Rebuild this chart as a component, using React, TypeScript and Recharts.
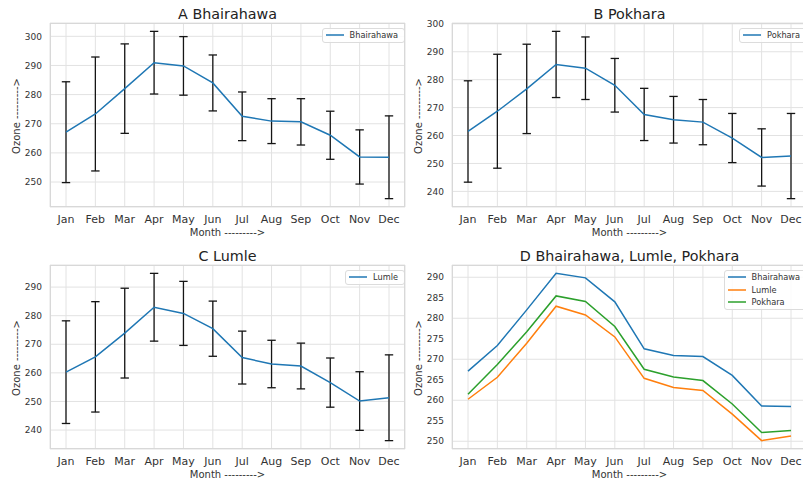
import React from 'react';
import { LineChart, Line, XAxis, YAxis, CartesianGrid, ErrorBar, Legend } from 'recharts';

const months = ['Jan', 'Feb', 'Mar', 'Apr', 'May', 'Jun', 'Jul', 'Aug', 'Sep', 'Oct', 'Nov', 'Dec'];

const bhairahawaMean = [267.1, 273.35, 282.05, 290.95, 289.85, 284.0, 272.55, 270.9, 270.65, 266.05, 258.6, 258.5];
const bhairahawaStd = [17.3, 19.55, 15.35, 10.75, 10.05, 9.6, 8.35, 7.7, 7.95, 8.25, 9.3, 14.2];
const pokharaMean = [261.45, 268.7, 276.7, 285.45, 284.1, 278.0, 267.55, 265.65, 264.8, 259.1, 252.15, 252.65];
const pokharaStd = [18.15, 20.4, 16.0, 11.85, 11.2, 9.6, 9.35, 8.35, 8.1, 8.8, 10.25, 15.25];
const lumleMean = [260.25, 265.6, 273.9, 282.95, 280.8, 275.45, 265.35, 263.1, 262.4, 256.6, 250.15, 251.3];
const lumleStd = [17.95, 19.3, 15.7, 11.85, 11.2, 9.65, 9.25, 8.3, 8.0, 8.6, 10.25, 15.0];

const ticksA = [250, 260, 270, 280, 290, 300];
const ticksB = [240, 250, 260, 270, 280, 290, 300];
const ticksC = [240, 250, 260, 270, 280, 290];
const ticksD = [250, 255, 260, 265, 270, 275, 280, 285, 290];

const titles = ['A Bhairahawa', 'B Pokhara', 'C Lumle', 'D Bhairahawa, Lumle, Pokhara'];
const xLabel = 'Month --------->';
const yLabel = 'Ozone --------->';

const BLUE = '#1f77b4';
const ORANGE = '#ff7f0e';
const GREEN = '#2ca02c';
const FONT = '"DejaVu Sans", Verdana, sans-serif';
const TEXT = '#333333';
const GRID = '#e2e2e2';

const PLOT_W = 355;
const PLOT_H = 184;

type Series = { name: string; color: string; values: number[]; std?: number[] };

function autoDomain(series: Series[]): [number, number] {
  let lo = Infinity;
  let hi = -Infinity;
  series.forEach((s) => {
    s.values.forEach((v, i) => {
      const e = s.std ? s.std[i] : 0;
      lo = Math.min(lo, v - e);
      hi = Math.max(hi, v + e);
    });
  });
  const m = (hi - lo) * 0.05;
  return [lo - m, hi + m];
}

const LegendBox = (props: any) => {
  const payload = props.payload || [];
  return (
    <div
      style={{
        border: '1px solid #dcdcdc',
        borderRadius: 3,
        background: 'rgba(255,255,255,0.85)',
        padding: '1.5px 6px 1.5px 3px',
        fontFamily: FONT,
      }}
    >
      {payload.map((p: any, i: number) => (
        <div
          key={i}
          style={{ display: 'flex', alignItems: 'center', height: 10.5, marginTop: i ? 2 : 0 }}
        >
          <svg width={18} height={4} style={{ display: 'block' }}>
            <line x1={0} y1={2} x2={18} y2={2} stroke={p.color} strokeWidth={1.5} />
          </svg>
          <span style={{ marginLeft: 6, fontSize: 8.2, color: TEXT, lineHeight: '10px', whiteSpace: 'nowrap' }}>
            {p.value}
          </span>
        </div>
      ))}
    </div>
  );
};

function Panel(props: {
  title: string;
  series: Series[];
  ticks: number[];
  plotLeft: number;
  plotTop: number;
}) {
  const { title, series, ticks, plotLeft, plotTop } = props;
  const rows = months.map((m, i) => {
    const r: any = { month: m };
    series.forEach((s) => {
      r[s.name] = s.values[i];
      if (s.std) r[s.name + 'Err'] = s.std[i];
    });
    return r;
  });
  const domain = autoDomain(series);
  return (
    <>
      <div style={{ position: 'absolute', left: plotLeft - 50, top: plotTop - 23 }}>
        <LineChart
          width={410}
          height={242}
          data={rows}
          margin={{ top: 23, right: 5, left: 10, bottom: 5 }}
          style={{ fontFamily: FONT }}
        >
          <CartesianGrid stroke={GRID} strokeWidth={1} />
          <XAxis
            dataKey="month"
            padding={{ left: 16, right: 16 }}
            height={30}
            axisLine={false}
            tickLine={false}
            tickSize={0}
            tickMargin={8}
            interval={0}
            tick={{ fontSize: 11, fill: TEXT }}
          />
          <YAxis
            type="number"
            width={40}
            domain={domain}
            ticks={ticks}
            allowDataOverflow
            axisLine={false}
            tickLine={false}
            tickSize={0}
            tickMargin={8}
            tick={{ fontSize: 9, fill: TEXT }}
          />
          {series.map((s) => (
            <Line
              key={s.name}
              dataKey={s.name}
              name={s.name}
              stroke={s.color}
              strokeWidth={1.5}
              dot={false}
              activeDot={false}
              isAnimationActive={false}
            >
              {s.std ? (
                <ErrorBar
                  dataKey={s.name + 'Err'}
                  direction="y"
                  width={4.2}
                  stroke="#151515"
                  strokeWidth={1.3}
                  isAnimationActive={false}
                />
              ) : null}
            </Line>
          ))}
          <Legend
            layout="vertical"
            align="center"
            verticalAlign="middle"
            content={<LegendBox />}
            wrapperStyle={{ top: 27.5, right: 5, left: 'auto', width: 'auto', height: 'auto' }}
          />
        </LineChart>
      </div>
      <div
        style={{
          position: 'absolute',
          left: plotLeft,
          top: plotTop,
          width: PLOT_W,
          height: PLOT_H,
          border: '1px solid #d8d8d8',
          boxSizing: 'border-box',
          pointerEvents: 'none',
        }}
      />
      <div
        style={{
          position: 'absolute',
          left: plotLeft + PLOT_W / 2,
          top: plotTop - 9.5,
          transform: 'translate(-50%, -50%)',
          fontSize: 14.3,
          lineHeight: 1,
          color: '#222',
          whiteSpace: 'nowrap',
        }}
      >
        {title}
      </div>
      <div
        style={{
          position: 'absolute',
          left: plotLeft + PLOT_W / 2,
          top: plotTop + PLOT_H + 26,
          transform: 'translate(-50%, -50%)',
          fontSize: 10,
          lineHeight: 1,
          color: TEXT,
          whiteSpace: 'nowrap',
        }}
      >
        {xLabel}
      </div>
      <div
        style={{
          position: 'absolute',
          left: plotLeft - 33,
          top: plotTop + PLOT_H / 2 + 1,
          transform: 'translate(-50%, -50%) rotate(-90deg)',
          fontSize: 10,
          lineHeight: 1,
          color: TEXT,
          whiteSpace: 'nowrap',
        }}
      >
        {yLabel}
      </div>
    </>
  );
}

export default function App() {
  const sB: Series = { name: 'Bhairahawa', color: BLUE, values: bhairahawaMean, std: bhairahawaStd };
  const sP: Series = { name: 'Pokhara', color: BLUE, values: pokharaMean, std: pokharaStd };
  const sL: Series = { name: 'Lumle', color: BLUE, values: lumleMean, std: lumleStd };
  const dSeries: Series[] = [
    { name: 'Bhairahawa', color: BLUE, values: bhairahawaMean },
    { name: 'Lumle', color: ORANGE, values: lumleMean },
    { name: 'Pokhara', color: GREEN, values: pokharaMean },
  ];
  return (
    <div
      style={{
        position: 'absolute',
        left: 0,
        top: 0,
        width: 803,
        height: 485,
        overflow: 'hidden',
        background: '#fff',
        fontFamily: FONT,
      }}
    >
      <Panel title={titles[0]} series={[sB]} ticks={ticksA} plotLeft={50} plotTop={23} />
      <Panel title={titles[1]} series={[sP]} ticks={ticksB} plotLeft={452} plotTop={23} />
      <Panel title={titles[2]} series={[sL]} ticks={ticksC} plotLeft={50} plotTop={265} />
      <Panel title={titles[3]} series={dSeries} ticks={ticksD} plotLeft={452} plotTop={265} />
    </div>
  );
}
